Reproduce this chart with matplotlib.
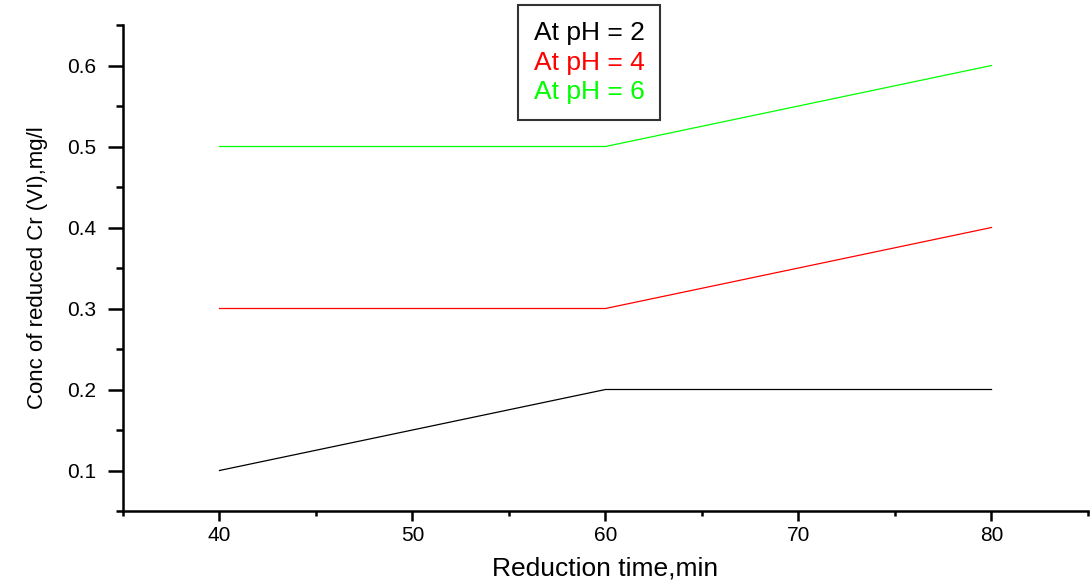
import matplotlib
matplotlib.use("Agg")
import matplotlib.pyplot as plt
from matplotlib.ticker import MultipleLocator
from matplotlib.lines import Line2D

plt.rcParams['font.family'] = ['Liberation Sans', 'DejaVu Sans']

time_min = [40, 60, 80]
ph2 = [0.1, 0.2, 0.2]
ph4 = [0.3, 0.3, 0.4]
ph6 = [0.5, 0.5, 0.6]
labels = ["At pH = 2", "At pH = 4", "At pH = 6"]
colors = ["#000000", "#ff0000", "#00ff00"]

fig = plt.figure(figsize=(10.9, 5.82), dpi=100)
ax = fig.add_axes([123/1090, 1-511/582, (1088-123)/1090, (511-25)/582])

for y, c, lab in zip([ph2, ph4, ph6], colors, labels):
    ax.plot(time_min, y, color=c, lw=0.9, label=lab)

ax.set_xlim(35, 85)
ax.set_ylim(0.05, 0.65)
ax.xaxis.set_major_locator(MultipleLocator(10))
ax.xaxis.set_minor_locator(MultipleLocator(5))
ax.yaxis.set_minor_locator(MultipleLocator(0.05))
ax.set_yticks([0.1, 0.2, 0.3, 0.4, 0.5, 0.6])
ax.set_yticklabels(["0.1", "0.2", "0.3", "0.4", "0.5", "0.6"])

for s in ['top', 'right']:
    ax.spines[s].set_visible(False)
for s in ['left', 'bottom']:
    ax.spines[s].set_linewidth(1.8)

ax.tick_params(axis='y', which='major', direction='out', length=11, width=1.8, labelsize=15, pad=8)
ax.tick_params(axis='y', which='minor', direction='out', length=5, width=1.8)
ax.tick_params(axis='x', which='major', direction='out', length=7, width=1.8, labelsize=15, pad=4)
ax.tick_params(axis='x', which='minor', direction='out', length=3.5, width=1.8)

ax.set_xlabel("Reduction time,min", fontsize=19, labelpad=8)
ax.set_ylabel("Conc of reduced Cr (VI),mg/l", fontsize=16, labelpad=14)

handles = [Line2D([], [], color=c) for c in colors]
leg = fig.legend(handles, labels, loc='upper center', bbox_to_anchor=(589/1090, 1-5/582),
                 handlelength=0, handletextpad=0, fontsize=19, frameon=True,
                 fancybox=False, edgecolor='black', borderpad=0.6, labelspacing=0.22,
                 borderaxespad=0)
leg.get_frame().set_linewidth(1.5)
for t, c in zip(leg.get_texts(), colors):
    t.set_color(c)
for h in leg.legend_handles:
    h.set_visible(False)

fig.savefig("out.png", dpi=100)
